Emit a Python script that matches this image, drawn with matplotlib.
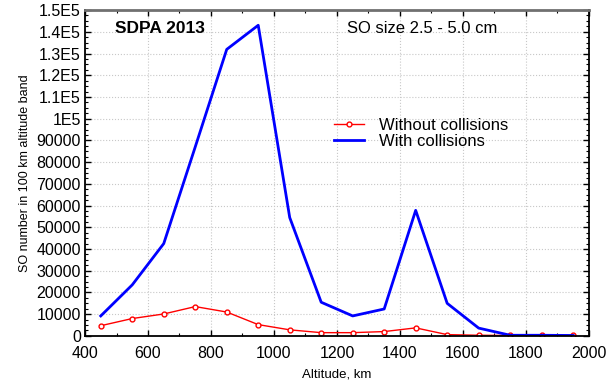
import matplotlib
matplotlib.use("Agg")
from matplotlib import pyplot as plt
from matplotlib.ticker import AutoMinorLocator, FixedLocator

plt.rcParams['font.family'] = ['Liberation Sans', 'DejaVu Sans']

# altitude band centres, km
altitude = [450, 550, 650, 750, 850, 950, 1050, 1150, 1250, 1350,
            1450, 1550, 1650, 1750, 1850, 1950]
# SO number without collisions
no_coll = [4700, 8000, 10100, 13500, 11000, 5200, 2800, 1500, 1500, 2000,
           3700, 600, 300, 200, 200, 200]
# SO number with collisions
with_coll = [9200, 23500, 42500, 87000, 131900, 143000, 54500, 15500, 9200, 12400,
             57800, 15000, 3600, 300, 300, 200]

y_ticks = list(range(0, 150001, 10000))
y_labels = ['0', '10000', '20000', '30000', '40000', '50000', '60000', '70000',
            '80000', '90000', '1E5', '1.1E5', '1.2E5', '1.3E5', '1.4E5', '1.5E5']

fig = plt.figure(figsize=(6.16, 3.87), dpi=100)
ax = fig.add_axes([0.138, 0.132, 0.818, 0.842])

ax.plot(altitude, no_coll, color='#ff0000', lw=1.0, marker='o', ms=3.5,
        mfc='white', mec='#ff0000', mew=1.0, label='Without collisions')
ax.plot(altitude, with_coll, color='#0000ff', lw=2.0, label='With collisions')

ax.set_xlim(400, 2000)
ax.set_ylim(0, 150000)
ax.set_xticks(range(400, 2001, 200))
ax.yaxis.set_major_locator(FixedLocator(y_ticks))
ax.set_yticklabels(y_labels)
ax.xaxis.set_minor_locator(AutoMinorLocator(2))
ax.yaxis.set_minor_locator(AutoMinorLocator(4))
ax.tick_params(which='both', direction='in', top=True, right=True, colors='black')
ax.tick_params(axis='x', labelsize=11.5, pad=7)
ax.tick_params(axis='y', labelsize=11.5, pad=3)
ax.tick_params(which='major', length=4, width=1)
ax.tick_params(which='minor', length=2, width=0.8)
ax.grid(True, which='major', color='#c8c8c8', lw=0.8, ls=':')

for side in ['left', 'bottom', 'right']:
    ax.spines[side].set_linewidth(1.3)
    ax.spines[side].set_color('black')
ax.spines['top'].set_linewidth(2)
ax.spines['top'].set_color('#707070')

ax.set_xlabel('Altitude, km', fontsize=9.5, labelpad=6)
ax.set_ylabel('SO number in 100 km altitude band', fontsize=9, labelpad=4)

ax.text(0.06, 0.965, 'SDPA 2013', transform=ax.transAxes, fontsize=12.5,
        fontweight='bold', va='top')
ax.text(0.52, 0.965, 'SO size 2.5 - 5.0 cm', transform=ax.transAxes,
        fontsize=12, va='top')

ax.legend(loc='upper left', bbox_to_anchor=(0.48, 0.69), frameon=False,
          fontsize=12, handlelength=1.8, handletextpad=0.9, labelspacing=0.05,
          borderaxespad=0)

fig.savefig('out.png', dpi=100)
